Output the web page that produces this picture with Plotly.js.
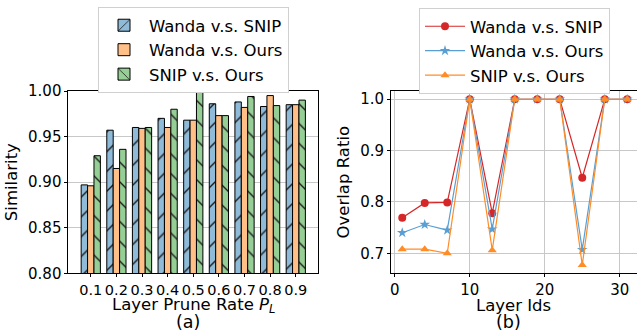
<!DOCTYPE html>
<html>
<head>
<meta charset="utf-8">
<script src="https://cdn.plot.ly/plotly-3.0.1.min.js"></script>
<style>html,body{margin:0;padding:0;background:#fff;}#chart{width:637px;height:333px;}</style>
</head>
<body>
<div id="chart"></div>
<script>
// Panel (a): similarity vs layer prune rate
const pruneRates = ['0.1','0.2','0.3','0.4','0.5','0.6','0.7','0.8','0.9'];
const simWandaSnip = [0.897, 0.957, 0.960, 0.970, 0.968, 0.986, 0.988, 0.983, 0.985];
const simWandaOurs = [0.896, 0.915, 0.959, 0.960, 0.968, 0.973, 0.982, 0.995, 0.985];
const simSnipOurs  = [0.929, 0.936, 0.960, 0.980, 1.000, 0.973, 0.994, 0.984, 0.990];

// Panel (b): overlap ratio vs layer ids
const layerIds = [1, 4, 7, 10, 13, 16, 19, 22, 25, 28, 31];
const ovWandaSnip = [0.769, 0.798, 0.799, 1.0, 0.778, 1.0, 1.0, 1.0, 0.847, 1.0, 1.0];
const ovWandaOurs = [0.740, 0.756, 0.745, 1.0, 0.747, 1.0, 1.0, 1.0, 0.707, 1.0, 1.0];
const ovSnipOurs  = [0.708, 0.708, 0.700, 1.0, 0.706, 1.0, 1.0, 1.0, 0.677, 1.0, 1.0];

const seriesNames = ['Wanda v.s. SNIP', 'Wanda v.s. Ours', 'SNIP v.s. Ours'];

const FONT = 'DejaVu Sans, sans-serif';
const FS = 16.5;
const TFS = 15;
const barColors = ['#8fbbd9', '#ffbf86', '#95cf95'];
const barPatterns = ['/', '', '\\'];
const simSeries = [simWandaSnip, simWandaOurs, simSnipOurs];

const traces = [];
simSeries.forEach((vals, i) => {
  traces.push({
    type: 'bar', x: pruneRates, y: vals, name: seriesNames[i],
    xaxis: 'x', yaxis: 'y', legend: 'legend',
    marker: {
      color: barColors[i],
      line: {color: '#000', width: 1},
      pattern: {shape: barPatterns[i], fgcolor: '#1a1a1a', bgcolor: barColors[i], size: 14, solidity: 0.1}
    }
  });
});

const lineColors = ['#d62728', '#5a9fd4', '#ff8c26'];
const lineSymbols = ['circle', 'star', 'triangle-up'];
const ovSeries = [ovWandaSnip, ovWandaOurs, ovSnipOurs];
ovSeries.forEach((vals, i) => {
  traces.push({
    type: 'scatter', mode: 'lines+markers', x: layerIds, y: vals, name: seriesNames[i],
    xaxis: 'x2', yaxis: 'y2', legend: 'legend2',
    line: {color: lineColors[i], width: 1.2},
    marker: {color: lineColors[i], symbol: lineSymbols[i], size: 8}
  });
});

const axisCommon = {
  showline: true, linecolor: '#000', linewidth: 1, mirror: true,
  ticks: 'outside', ticklen: 3, tickcolor: '#000', tickwidth: 1,
  tickfont: {family: FONT, size: TFS, color: '#000'},
  tickangle: 0, zeroline: false
};

const layout = {
  width: 637, height: 333,
  margin: {l: 0, r: 0, t: 0, b: 0},
  paper_bgcolor: '#fff', plot_bgcolor: '#fff',
  font: {family: FONT, size: FS, color: '#000'},
  barmode: 'group', bargap: 0.25, bargroupgap: 0,
  xaxis: Object.assign({}, axisCommon, {
    domain: [0.1075, 0.4985], anchor: 'y', type: 'category',
    range: [-0.87, 8.85], showgrid: false,
    tickfont: {family: FONT, size: 14.5, color: '#000'}
  }),
  yaxis: Object.assign({}, axisCommon, {
    domain: [0.1793, 0.7267], anchor: 'x',
    range: [0.8, 1.0], tickvals: [0.80, 0.85, 0.90, 0.95, 1.00], tickformat: '.2f',
    showgrid: true, gridcolor: '#c8c8c8', gridwidth: 1,
    title: {text: 'Similarity', font: {family: FONT, size: FS}, standoff: 6}
  }),
  xaxis2: Object.assign({}, axisCommon, {
    domain: [0.6138, 1.0], anchor: 'y2',
    range: [-0.5, 32.3], tickvals: [0, 10, 20, 30],
    showgrid: true, gridcolor: '#c8c8c8', gridwidth: 1
  }),
  yaxis2: Object.assign({}, axisCommon, {
    domain: [0.1793, 0.7267], anchor: 'x2',
    range: [0.661, 1.016], tickvals: [0.7, 0.8, 0.9, 1.0], tickformat: '.1f',
    showgrid: true, gridcolor: '#c8c8c8', gridwidth: 1,
    title: {text: 'Overlap Ratio', font: {family: FONT, size: FS}, standoff: 6}
  }),
  legend: {
    x: 98/637, y: 1 - 7/333, xanchor: 'left', yanchor: 'top',
    bgcolor: '#fff', bordercolor: '#d0d0d0', borderwidth: 1,
    font: {family: FONT, size: FS}, tracegroupgap: 0, itemwidth: 40
  },
  legend2: {
    x: 419/637, y: 1 - 8/333, xanchor: 'left', yanchor: 'top',
    bgcolor: '#fff', bordercolor: '#d0d0d0', borderwidth: 1,
    font: {family: FONT, size: FS}, tracegroupgap: 0, itemwidth: 40
  },
  annotations: [
    {text: 'Layer Prune Rate <i>P</i><sub><i>L</i></sub>', xref: 'paper', yref: 'paper', x: 193/637, y: 1 - 305/333, xanchor: 'center', yanchor: 'middle', showarrow: false, font: {family: FONT, size: FS}},
    {text: 'Layer Ids', xref: 'paper', yref: 'paper', x: 513/637, y: 1 - 305/333, xanchor: 'center', yanchor: 'middle', showarrow: false, font: {family: FONT, size: FS}},
    {text: '(a)', xref: 'paper', yref: 'paper', x: 188/637, y: 1 - 322/333, xanchor: 'center', yanchor: 'middle', showarrow: false, font: {family: FONT, size: 17.5}},
    {text: '(b)', xref: 'paper', yref: 'paper', x: 508/637, y: 1 - 322/333, xanchor: 'center', yanchor: 'middle', showarrow: false, font: {family: FONT, size: 17.5}}
  ]
};

Plotly.newPlot('chart', traces, layout, {displayModeBar: false, staticPlot: true});
</script>
</body>
</html>
